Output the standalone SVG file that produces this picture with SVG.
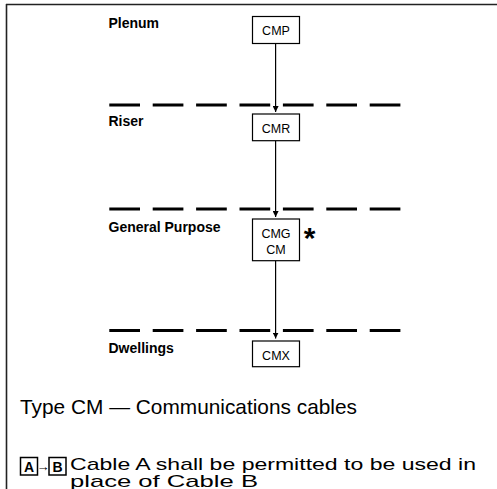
<svg xmlns="http://www.w3.org/2000/svg" width="497" height="489" viewBox="0 0 497 489">
<style>
.frame{stroke:#222;stroke-width:1.6;fill:none}
.dash{stroke:#000;stroke-width:3;stroke-dasharray:30.7 12.7;fill:none}
.box{fill:#fff;stroke:#000;stroke-width:1.2}
.lbl{font-family:"Liberation Sans",Arial,sans-serif;font-weight:bold;font-size:14px;fill:#000}
.bt{font-family:"Liberation Sans",Arial,sans-serif;font-size:12.5px;fill:#000;text-anchor:middle}
.big{font-family:"Liberation Sans",Arial,sans-serif;font-size:21px;fill:#000}
.leg{font-family:"Liberation Sans",Arial,sans-serif;font-size:17px;fill:#000}
.conn{stroke:#000;stroke-width:1.2;fill:none}
.lb{fill:#fff;stroke:#000;stroke-width:1.5}
.lt{font-family:"Liberation Sans",Arial,sans-serif;font-weight:bold;font-size:14px;fill:#000;text-anchor:middle}
</style>
<defs>
<marker id="ah" viewBox="0 0 10 10" refX="10" refY="5" markerWidth="6" markerHeight="6" markerUnits="userSpaceOnUse" orient="auto">
<path d="M0,0 L10,5 L0,10 z" fill="#000"/>
</marker>
</defs>
<line class="frame" x1="6" y1="4.5" x2="497" y2="4.5" stroke="#555"/>
<line class="frame" x1="6.5" y1="4" x2="6.5" y2="489"/>
<g id="zones">
<line class="dash" x1="109.3" y1="105" x2="401" y2="105"/>
<line class="dash" x1="109.3" y1="209" x2="401" y2="209"/>
<line class="dash" x1="109.3" y1="330.5" x2="401" y2="330.5"/>
<text class="lbl" x="108.5" y="28">Plenum</text>
<text class="lbl" x="108.5" y="126">Riser</text>
<text class="lbl" x="108.5" y="232">General Purpose</text>
<text class="lbl" x="108.5" y="353">Dwellings</text>
</g>
<g id="connectors">
<line class="conn" x1="275.6" y1="43.5" x2="275.6" y2="112" marker-end="url(#ah)"/>
<line class="conn" x1="275.6" y1="140.7" x2="275.6" y2="217" marker-end="url(#ah)"/>
<line class="conn" x1="275.6" y1="260.7" x2="275.6" y2="338.5" marker-end="url(#ah)"/>
</g>
<g id="cmp">
<rect class="box" x="252.5" y="16.5" width="47" height="27"/>
<text class="bt" x="276" y="35">CMP</text>
</g>
<g id="cmr">
<rect class="box" x="252.5" y="114" width="47" height="26.7"/>
<text class="bt" x="276" y="132.5">CMR</text>
</g>
<g id="cmg">
<rect class="box" x="252.5" y="219" width="47" height="41.7"/>
<text class="bt" x="276" y="238">CMG</text>
<text class="bt" x="276" y="254">CM</text>
<text x="309.5" y="248" font-family="Liberation Sans,Arial,sans-serif" font-weight="bold" font-size="30" text-anchor="middle">*</text>
</g>
<g id="cmx">
<rect class="box" x="252.5" y="341" width="47" height="25.7"/>
<text class="bt" x="276" y="359.5">CMX</text>
</g>
<g id="legend">
<text class="big" x="20" y="414" textLength="337" lengthAdjust="spacingAndGlyphs">Type CM — Communications cables</text>
<rect class="lb" x="20.5" y="457.5" width="17" height="17.5"/>
<text class="lt" x="29" y="471.5">A</text>
<text x="43" y="470.5" font-family="Liberation Sans,Arial,sans-serif" font-size="13" text-anchor="middle">→</text>
<rect class="lb" x="49" y="457.5" width="17" height="17.5"/>
<text class="lt" x="57.5" y="471.5">B</text>
<text class="leg" x="70" y="470" textLength="406" lengthAdjust="spacingAndGlyphs">Cable A shall be permitted to be used in</text>
<text class="leg" x="70" y="486.5" textLength="188" lengthAdjust="spacingAndGlyphs">place of Cable B</text>
</g>
</svg>
